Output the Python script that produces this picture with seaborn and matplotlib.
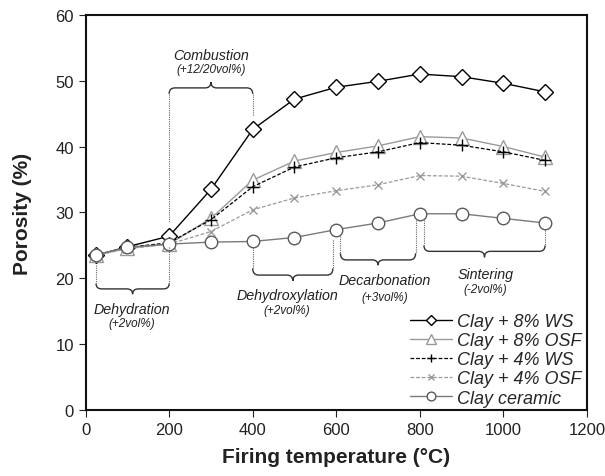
import numpy as np
import pandas as pd
import matplotlib
matplotlib.use("Agg")
import matplotlib.pyplot as plt
from matplotlib.path import Path
from matplotlib.patches import PathPatch
import seaborn as sns

# temperaturas de coccion (°C)
temperatura = [25, 100, 200, 300, 400, 500, 600, 700, 800, 900, 1000, 1100]

# porosidad (%) de cada mezcla
clay_8_ws = [23.5, 24.8, 26.4, 33.5, 42.6, 47.2, 49.0, 49.9, 51.0, 50.6, 49.6, 48.3]
clay_8_osf = [23.5, 24.6, 25.2, 29.1, 34.9, 37.8, 39.1, 40.1, 41.5, 41.3, 40.0, 38.4]
clay_4_ws = [23.5, 24.7, 25.4, 28.9, 33.9, 36.9, 38.3, 39.2, 40.6, 40.2, 39.2, 37.9]
clay_4_osf = [23.5, 24.5, 25.2, 27.1, 30.4, 32.2, 33.3, 34.2, 35.6, 35.5, 34.4, 33.2]
clay_ceramic = [23.6, 24.7, 25.2, 25.5, 25.6, 26.2, 27.4, 28.4, 29.8, 29.8, 29.1, 28.4]

etiquetas = ["Clay + 8% WS", "Clay + 8% OSF", "Clay + 4% WS", "Clay + 4% OSF", "Clay ceramic"]
series = [clay_8_ws, clay_8_osf, clay_4_ws, clay_4_osf, clay_ceramic]

# etapas: (titulo, subtitulo, x0, x1, y extremo, y linea, y punta, x texto, y texto, y subtexto)
etapas = [
    ("Combustion", "(+12/20vol%)", 200, 400, 48.0, 48.9, 49.8, 300, 53.9, 51.8),
    ("Dehydration", "(+2vol%)", 25, 200, 19.2, 18.4, 17.6, 111, 15.4, 13.3),
    ("Dehydroxylation", "(+2vol%)", 400, 592, 21.5, 20.5, 19.6, 482, 17.5, 15.2),
    ("Decarbonation", "(+3vol%)", 610, 790, 23.8, 22.8, 22.0, 717, 19.8, 17.2),
    ("Sintering", "(-2vol%)", 810, 1100, 25.0, 24.1, 23.2, 957, 20.7, 18.4),
]
# lineas punteadas verticales: (x, y inicio, y fin)
guias = [
    (200, 48.0, 28.6), (400, 48.0, 44.7),
    (25, 22.0, 19.2), (200, 24.8, 19.2),
    (400, 24.8, 21.5), (592, 25.8, 21.5),
    (610, 26.4, 23.8), (790, 28.8, 23.8),
    (810, 28.8, 25.0), (1100, 27.3, 25.0),
]

sns.set_style("ticks")
plt.rcParams["font.family"] = ["Liberation Sans", "DejaVu Sans"]

fig = plt.figure(figsize=(6.05, 4.77), dpi=100)
ax = fig.add_axes([0.1415, 0.138, 0.8285, 0.829])

estilos = [
    dict(color="black", marker="D", markersize=8, linestyle="-", mfc="white", mec="black", lw=1.0),
    dict(color="#9a9a9a", marker="^", markersize=10, linestyle="-", mfc="white", mec="#9a9a9a", lw=1.0),
    dict(color="black", marker="+", markersize=8, linestyle=(0, (3, 1.5)), mec="black", lw=0.9),
    dict(color="#9a9a9a", marker="x", markersize=6, linestyle=(0, (3, 1.5)), mec="#9a9a9a", lw=0.9),
    dict(color="#7a7a7a", marker="o", markersize=9, linestyle="-", mfc="white", mec="#5a5a5a", lw=1.0),
]

for nombre, valores, st in zip(etiquetas, series, estilos):
    df = pd.DataFrame({"temp": temperatura, "por": valores})
    sns.lineplot(data=df, x="temp", y="por", ax=ax, label=nombre, mew=1.0, **st)

# llaves y textos de las etapas
gris = "#333333"
for titulo, sub, x0, x1, ye, yl, yt, xt, ytt, yst in etapas:
    xm = (x0 + x1) / 2
    r = 14
    verts = [(x0, ye), (x0, yl), (x0 + r, yl), (xm - r, yl), (xm, yl), (xm, yt),
             (xm, yl), (xm + r, yl), (x1 - r, yl), (x1, yl), (x1, ye)]
    codes = [Path.MOVETO, Path.CURVE3, Path.CURVE3, Path.LINETO, Path.CURVE3, Path.CURVE3,
             Path.CURVE3, Path.CURVE3, Path.LINETO, Path.CURVE3, Path.CURVE3]
    ax.add_patch(PathPatch(Path(verts, codes), fill=False, edgecolor=gris, lw=1.0))
    ax.text(xt, ytt, titulo, style="italic", fontsize=10.3, ha="center", va="center", color="#222222")
    ax.text(xt, yst, sub, style="italic", fontsize=8.5, ha="center", va="center", color="#222222")

for x, ya, yb in guias:
    ax.plot([x, x], [ya, yb], linestyle=(0, (1, 1)), color="#666666", lw=0.8)

ax.set_xlim(0, 1200)
ax.set_ylim(0, 60)
ax.set_xticks(range(0, 1201, 200))
ax.set_yticks(range(0, 61, 10))
ax.tick_params(labelsize=12, length=5, width=0.8, colors="#222222", direction="out")
for s in ax.spines.values():
    s.set_linewidth(1.5)
    s.set_color("#111111")

ax.set_xlabel("Firing temperature (°C)", fontsize=15, fontweight="bold", color="#222222", labelpad=7)
ax.set_ylabel("Porosity (%)", fontsize=15, fontweight="bold", color="#222222", labelpad=17)

ax.legend(loc="lower right", bbox_to_anchor=(0.997, 0.0), frameon=False,
          prop={"style": "italic", "size": 13}, labelspacing=0.12, handlelength=2.3,
          handletextpad=0.3, borderaxespad=0.1, borderpad=0.1, markerscale=0.7)

plt.savefig("out.png", dpi=100)
